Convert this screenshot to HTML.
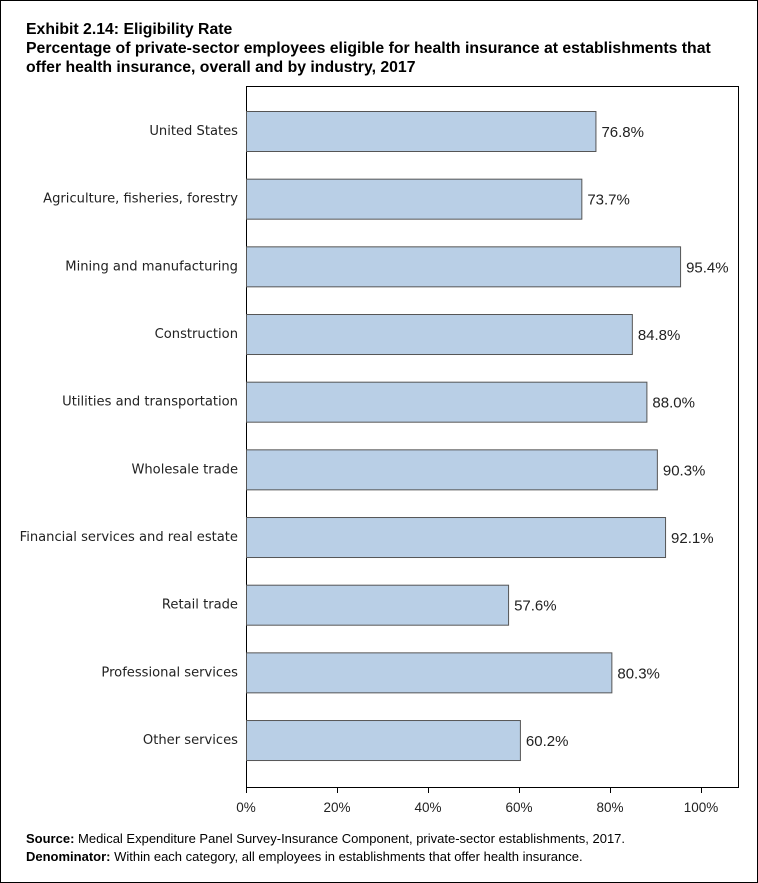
<!DOCTYPE html>
<html><head><meta charset="utf-8"><style>
body{margin:0;background:#fff;font-family:"Liberation Sans",Arial,sans-serif}
#wrap{position:relative;width:756px;height:881px;border:1px solid #000;overflow:hidden}
.t{position:absolute;left:25px;font-weight:bold;font-size:15.8px;line-height:19px;color:#000;white-space:nowrap}
.f{position:absolute;left:25px;font-size:13px;white-space:nowrap}
</style></head><body>
<div id="wrap">
<div class="t" style="top:19px">Exhibit 2.14: Eligibility Rate</div>
<div class="t" style="top:38px">Percentage of private-sector employees eligible for health insurance at establishments that<br>offer health insurance, overall and by industry, 2017</div>
<svg id="chart" width="756" height="881" style="position:absolute;left:0;top:0"></svg>
<div class="f" style="top:830px"><b>Source:</b> Medical Expenditure Panel Survey-Insurance Component, private-sector establishments, 2017.</div>
<div class="f" style="top:848px"><b>Denominator:</b> Within each category, all employees in establishments that offer health insurance.</div>
</div>
<script>
const categories=["United States","Agriculture, fisheries, forestry","Mining and manufacturing","Construction","Utilities and transportation","Wholesale trade","Financial services and real estate","Retail trade","Professional services","Other services"];
const values=[76.8,73.7,95.4,84.8,88.0,90.3,92.1,57.6,80.3,60.2];
const ticks=[0,20,40,60,80,100];
const NS="http://www.w3.org/2000/svg";
const svg=document.getElementById('chart');
const L=245,T=85,R=737,B=786;
const x=v=>L+v*4.55;
const yc=i=>130+i*67.67;
function mk(tag,a,txt){const e=document.createElementNS(NS,tag);for(const k in a)e.setAttribute(k,a[k]);if(txt!=null)e.textContent=txt;svg.appendChild(e);return e;}
const frame=mk('rect',{x:L+0.5,y:T+0.5,width:R-L,height:B-T,fill:'none',stroke:'#000','stroke-width':1});


categories.forEach((c,i)=>{
 const r=mk('rect',{x:L+0.5,y:yc(i)-19.5,width:x(values[i])-L,height:40,fill:'#b9cfe6',stroke:'#555','stroke-width':1});
 
 
 const lb=mk('text',{x:L-8,y:yc(i)+4,'text-anchor':'end',fill:'#222','font-family':'DejaVu Sans, sans-serif','font-size':13.1},c);
 
 
 const vl=mk('text',{x:x(values[i])+6,y:yc(i)+6,'font-size':15,fill:'#222'},values[i].toFixed(1)+'%');
 
 
});
ticks.forEach(t=>{
 const l=mk('line',{x1:x(t)+0.5,x2:x(t)+0.5,y1:B,y2:B+6,stroke:'#000'});
 
 
 const tx=mk('text',{x:x(t),y:B+25,'text-anchor':'middle','font-size':13.5,fill:'#222'},t+'%');
 
 
});
</script>
</body></html>
